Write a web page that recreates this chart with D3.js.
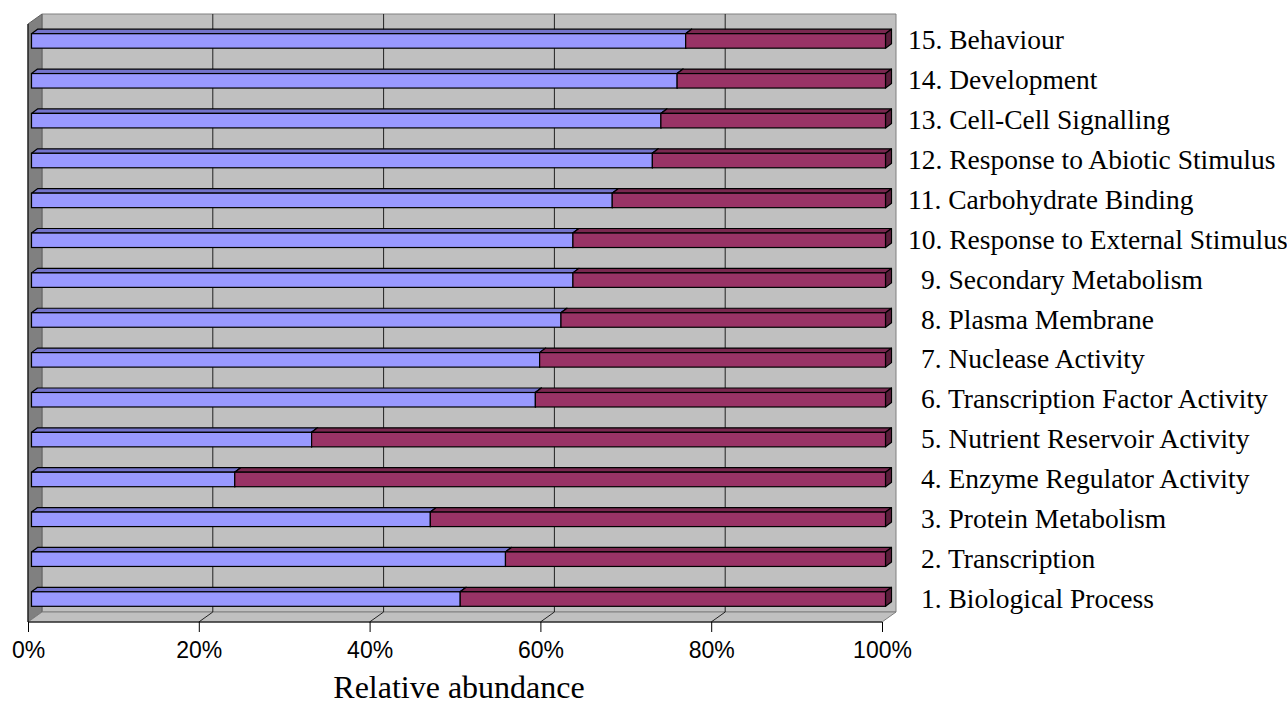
<!DOCTYPE html>
<html>
<head>
<meta charset="utf-8">
<script src="https://cdn.jsdelivr.net/npm/d3@7"></script>
<style>
  html, body { margin: 0; padding: 0; background: #fff; }
  svg { display: block; }
</style>
</head>
<body>
<svg id="chart" width="1287" height="706"></svg>
<script>
// ---- data ----
const categories = [
  "1. Biological Process",
  "2. Transcription",
  "3. Protein Metabolism",
  "4. Enzyme Regulator Activity",
  "5. Nutrient Reservoir Activity",
  "6. Transcription Factor Activity",
  "7. Nuclease Activity",
  "8. Plasma Membrane",
  "9. Secondary Metabolism",
  "10. Response to External Stimulus",
  "11. Carbohydrate Binding",
  "12. Response to Abiotic Stimulus",
  "13. Cell-Cell Signalling",
  "14. Development",
  "15. Behaviour"
];
const seriesA = [50.2, 55.5, 46.7, 23.8, 32.8, 59.0, 59.5, 62.0, 63.4, 63.4, 68.0, 72.7, 73.7, 75.6, 76.6];
const seriesB = [49.8, 44.5, 53.3, 76.2, 67.2, 41.0, 40.5, 38.0, 36.6, 36.6, 32.0, 27.3, 26.3, 24.4, 23.4];
const tickValues = [0, 20, 40, 60, 80, 100];
const tickLabels = ["0%", "20%", "40%", "60%", "80%", "100%"];
const axisTitle = "Relative abundance";

// ---- layout ----
const svg = d3.select("#chart");
const X0 = 28, X1 = 882, YTOP = 24, YBOT = 622;
const DX = 14, DY = -10;           // depth of the 3D box
const BX = 3.5, BY = -3;           // bar front plane offset
const BDX = 6, BDY = -4.5;         // bar depth
const BAR_H = 14.5;

const x = d3.scaleLinear().domain([0, 100]).range([X0, X1]);
const y = d3.scaleBand().domain(categories.slice().reverse()).range([YTOP, YBOT]);

const poly = pts => pts.map(p => p.join(",")).join(" ");

// back wall
svg.append("polygon")
  .attr("points", poly([[X0 + DX, YTOP + DY], [X1 + DX, YTOP + DY], [X1 + DX, YBOT + DY], [X0 + DX, YBOT + DY]]))
  .attr("fill", "#c0c0c0").attr("stroke", "#808080").attr("stroke-width", 1);

// side wall
svg.append("polygon")
  .attr("points", poly([[X0, YTOP], [X0 + DX, YTOP + DY], [X0 + DX, YBOT + DY], [X0, YBOT]]))
  .attr("fill", "#808080").attr("stroke", "#606060").attr("stroke-width", 1);

// floor
svg.append("polygon")
  .attr("points", poly([[X0, YBOT], [X0 + DX, YBOT + DY], [X1 + DX, YBOT + DY], [X1, YBOT]]))
  .attr("fill", "#c0c0c0").attr("stroke", "#808080").attr("stroke-width", 1);

// gridlines on back wall and floor
const grid = tickValues.filter(v => v > 0 && v < 100);
svg.append("g").selectAll("line").data(grid).join("line")
  .attr("x1", d => x(d) + DX).attr("x2", d => x(d) + DX)
  .attr("y1", YTOP + DY).attr("y2", YBOT + DY)
  .attr("stroke", "#222").attr("stroke-width", 1);
svg.append("g").selectAll("line").data(grid).join("line")
  .attr("x1", d => x(d)).attr("x2", d => x(d) + DX)
  .attr("y1", YBOT).attr("y2", YBOT + DY)
  .attr("stroke", "#222").attr("stroke-width", 1);

// axis lines
svg.append("line").attr("x1", X0).attr("x2", X0).attr("y1", YTOP).attr("y2", YBOT)
  .attr("stroke", "#000").attr("stroke-width", 1);
svg.append("line").attr("x1", X0).attr("x2", X1).attr("y1", YBOT).attr("y2", YBOT)
  .attr("stroke", "#000").attr("stroke-width", 1);

// value axis (ticks + labels)
const xAxis = d3.axisBottom(x).tickValues(tickValues)
  .tickFormat((d, i) => tickLabels[i]).tickSize(10).tickSizeOuter(0);
const gx = svg.append("g").attr("transform", `translate(0,${YBOT})`).call(xAxis);
gx.select(".domain").remove();
gx.selectAll(".tick line").attr("stroke", "#000");
gx.selectAll(".tick text")
  .attr("y", 36).attr("dy", 0)
  .attr("font-family", "'Liberation Sans', Arial, sans-serif")
  .attr("font-size", 23).attr("fill", "#000");

// bars
const series = [
  { values: seriesA, front: "#9999ff", top: "#7474cc", side: "#5c5ca8" },
  { values: seriesB, front: "#993366", top: "#7a2850", side: "#5a1d3b" }
];
const barsG = svg.append("g");
categories.forEach((cat, i) => {
  const cy = y(cat) + y.bandwidth() / 2 + BY;
  const yt = cy - BAR_H / 2, yb = cy + BAR_H / 2;
  let acc = 0;
  series.forEach(s => {
    const v0 = acc, v1 = acc + s.values[i];
    acc = v1;
    const xa = x(v0) + BX, xb = x(v1) + BX;
    const g = barsG.append("g");
    g.append("polygon")
      .attr("points", poly([[xa, yt], [xa + BDX, yt + BDY], [xb + BDX, yt + BDY], [xb, yt]]))
      .attr("fill", s.top).attr("stroke", "#000").attr("stroke-width", 1.2).attr("stroke-linejoin", "round");
    g.append("polygon")
      .attr("points", poly([[xb, yt], [xb + BDX, yt + BDY], [xb + BDX, yb + BDY], [xb, yb]]))
      .attr("fill", s.side).attr("stroke", "#000").attr("stroke-width", 1.2).attr("stroke-linejoin", "round");
    g.append("rect")
      .attr("x", xa).attr("y", yt).attr("width", xb - xa).attr("height", BAR_H)
      .attr("fill", s.front).attr("stroke", "#000").attr("stroke-width", 1.2);
  });
});

// category labels on the right
svg.append("g").selectAll("text").data(categories).join("text")
  .attr("x", d => /^\d\d/.test(d) ? 908 : 921)
  .attr("y", d => y(d) + y.bandwidth() / 2 + BY + 8.5)
  .attr("font-family", "'Liberation Serif', 'Times New Roman', serif")
  .attr("font-size", 27.5).attr("fill", "#000")
  .text(d => d);

// axis title
svg.append("text")
  .attr("x", 459).attr("y", 698)
  .attr("text-anchor", "middle")
  .attr("font-family", "'Liberation Serif', 'Times New Roman', serif")
  .attr("font-size", 32).attr("fill", "#000")
  .text(axisTitle);
</script>
</body>
</html>
